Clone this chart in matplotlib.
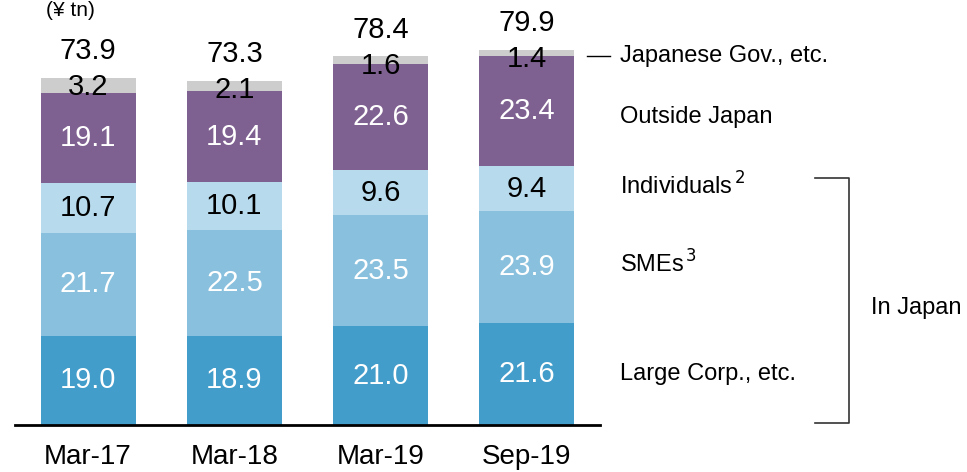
import matplotlib.pyplot as plt
import numpy as np

plt.rcParams['font.family'] = ['Liberation Sans', 'DejaVu Sans']

# periods and segment values (trillion yen)
periods = ['Mar-17', 'Mar-18', 'Mar-19', 'Sep-19']
large_corp = [19.0, 18.9, 21.0, 21.6]
smes = [21.7, 22.5, 23.5, 23.9]
individuals = [10.7, 10.1, 9.6, 9.4]
outside_japan = [19.1, 19.4, 22.6, 23.4]
japanese_gov = [3.2, 2.1, 1.6, 1.4]
totals = [73.9, 73.3, 78.4, 79.9]

segments = [large_corp, smes, individuals, outside_japan]
seg_colors = ['#439dca', '#88c0dd', '#b7dbec', '#7f6191']
seg_text = ['white', 'white', 'black', 'white']
gov_color = '#cdcdcd'

fig = plt.figure(figsize=(9.67, 4.72), dpi=100)
ax = fig.add_axes([15 / 967, 47 / 472, 585 / 967, 90 * 4.71 / 472])

x = np.arange(len(periods))
width = 0.65
bottom = np.zeros(len(periods))
for vals, col, tc in zip(segments, seg_colors, seg_text):
    ax.bar(x, vals, width, bottom=bottom, color=col)
    for xi, b, v in zip(x, bottom, vals):
        ax.text(xi, b + v / 2, f'{v:.1f}', ha='center', va='center',
                fontsize=21, color=tc)
    bottom += np.array(vals)

ax.bar(x, japanese_gov, width, bottom=bottom, color=gov_color)
for xi, t, v in zip(x, totals, japanese_gov):
    ax.text(xi, t - 3.8, f'{v:.1f}', ha='center', va='baseline', fontsize=21)
    ax.text(xi, t + 3.8, f'{t:.1f}', ha='center', va='baseline', fontsize=21)

ax.set_xlim(-0.5, 3.5)
ax.set_ylim(0, 90)
ax.set_xticks(x)
ax.set_xticklabels(periods, fontsize=20)
ax.tick_params(axis='x', length=0, pad=14)
ax.set_yticks([])
for s in ['top', 'right', 'left']:
    ax.spines[s].set_visible(False)
ax.spines['bottom'].set_linewidth(2)

# right-hand labels aligned with the last bar
lx = 3.64
last = len(periods) - 1
mids = []
b = 0
for vals in segments:
    mids.append(b + vals[last] / 2)
    b += vals[last]
ax.text(lx, mids[0], 'Large Corp., etc.', fontsize=17, va='center', clip_on=False)
ax.text(lx, mids[1] + 0.6, 'SMEs$^{\\,3}$', fontsize=17, va='center', clip_on=False)
ax.text(lx, mids[2] + 0.6, 'Individuals$^{\\,2}$', fontsize=17, va='center', clip_on=False)
ax.text(lx, mids[3] - 1.2, 'Outside Japan', fontsize=17, va='center', clip_on=False)
gov_y = totals[last] - japanese_gov[last] / 2 - 0.8
ax.plot([3.41, 3.57], [gov_y, gov_y], color='black', lw=1, clip_on=False)
ax.text(lx, gov_y, 'Japanese Gov., etc.', fontsize=17, va='center', clip_on=False)

# bracket for "In Japan"
bx0, bx1 = 4.97, 5.2
ax.plot([bx0, bx1, bx1, bx0], [52.4, 52.4, 0.4, 0.4], color='#333333',
        lw=1.2, clip_on=False)
ax.text(5.35, 24.8, 'In Japan', fontsize=17, va='center', clip_on=False)

# unit label
fig.text(70 / 967, 0.998, '(¥ tn)', fontsize=15, ha='center', va='top')

fig.savefig('out.png', dpi=100)
